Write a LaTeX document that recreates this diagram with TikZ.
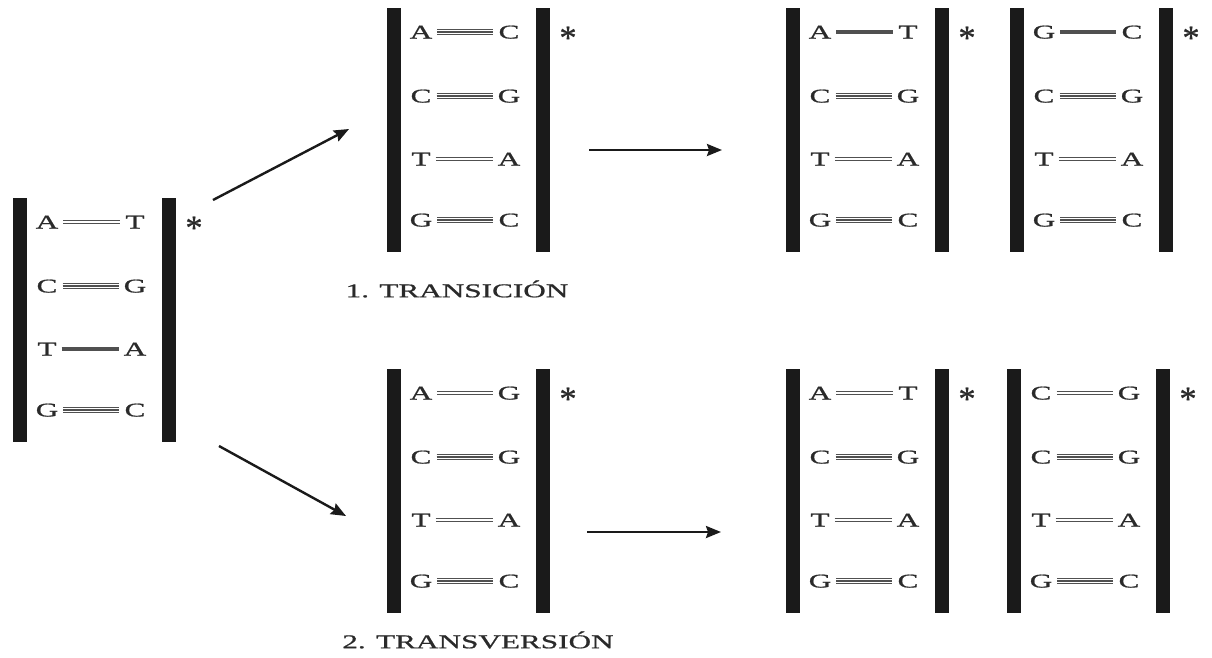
\documentclass[tikz,border=0pt]{standalone}
\usepackage{fontspec}
\setmainfont{Liberation Serif}[FakeStretch=1.6, FakeBold=0.9]
\newfontfamily\astfont{Liberation Serif}[FakeBold=0.8]
\usetikzlibrary{arrows.meta}
\definecolor{barc}{HTML}{1A1A1A}
\definecolor{bondc}{HTML}{505050}
\definecolor{txtc}{HTML}{2A2A2A}
\tikzset{
  strand/.style={fill=barc, draw=none, minimum width=14pt, minimum height=244pt, inner sep=0pt},
  base/.style={text=txtc, inner sep=0pt, text height=13pt, text depth=0pt, font=\fontsize{19.5}{20}\selectfont},
  star/.style={text=txtc, inner sep=0pt, anchor=base, font=\astfont\fontsize{34}{34}\selectfont},
  bond1/.style={draw=bondc, line width=3.5pt, shorten <=5pt, shorten >=5pt},
  bond2/.style={draw=bondc, line width=1.2pt, double=white, double distance=1.8pt, shorten <=5pt, shorten >=5pt},
  bond3/.style={draw=bondc, line width=1.2pt, double=white, double distance=3.6pt, shorten <=5pt, shorten >=5pt},
  bondmid/.style={draw=bondc, line width=1.2pt, shorten <=5pt, shorten >=5pt},
  arr/.style={draw=barc, line width=2.4pt, -{Stealth[length=15pt,width=12pt,inset=2pt]}},
  lab/.style={text=txtc, inner sep=0pt, font=\fontsize{19.5}{20}\selectfont}
}
\newcommand\ladder[4]{%
  \node[strand] (#1l) at (#2+7, #3+122) {};
  \node[strand] (#1r) at (#2+156, #3+122) {};
  \node[star] (#1s) at (#2+181, #3+41) {*};
  \foreach \a/\b/\t/\o [count=\i] in {#4} {
    \node[base] (#1a\i) at (#2+34, #3+\o) {\a};
    \node[base] (#1b\i) at (#2+122, #3+\o) {\b};
    \draw[bond\t] (#1a\i.east) -- (#1b\i.west);
    \ifnum\t=3 \draw[bondmid] (#1a\i.east) -- (#1b\i.west); \fi
  }%
}
\begin{document}
\begin{tikzpicture}[x=1pt,y=-1pt]
\path[use as bounding box, fill=white] (0,0) rectangle (1212,657);
% original
\ladder{P}{13}{198}{A/T/2/24, C/G/3/88, T/A/1/151, G/C/3/212}
% transition
\ladder{Q}{387}{8}{A/C/3/24, C/G/3/88, T/A/2/151, G/C/3/212}
\ladder{R}{786}{8}{A/T/1/24, C/G/3/88, T/A/2/151, G/C/3/212}
\ladder{S}{1010}{8}{G/C/1/24, C/G/3/88, T/A/2/151, G/C/3/212}
% transversion
\ladder{U}{387}{369}{A/G/2/24, C/G/3/88, T/A/2/151, G/C/3/212}
\ladder{V}{786}{369}{A/T/2/24, C/G/3/88, T/A/2/151, G/C/3/212}
\ladder{W}{1007}{369}{C/G/2/24, C/G/3/88, T/A/2/151, G/C/3/212}
% labels
\node[lab] (lab1) at (457,289) {1. TRANSICIÓN};
\node[lab] (lab2) at (478,640) {2. TRANSVERSIÓN};
% arrows
\coordinate (a1s) at (213,200);
\coordinate (a1e) at (349,129);
\coordinate (a2s) at (219,446);
\coordinate (a2e) at (346,516);
\coordinate (h1s) at (589,150);
\coordinate (h1e) at (722,150);
\coordinate (h2s) at (587,532);
\coordinate (h2e) at (721,532);
\draw[arr] (a1s) -- (a1e);
\draw[arr] (a2s) -- (a2e);
\draw[arr] (h1s) -- (h1e);
\draw[arr] (h2s) -- (h2e);
\end{tikzpicture}
\end{document}
